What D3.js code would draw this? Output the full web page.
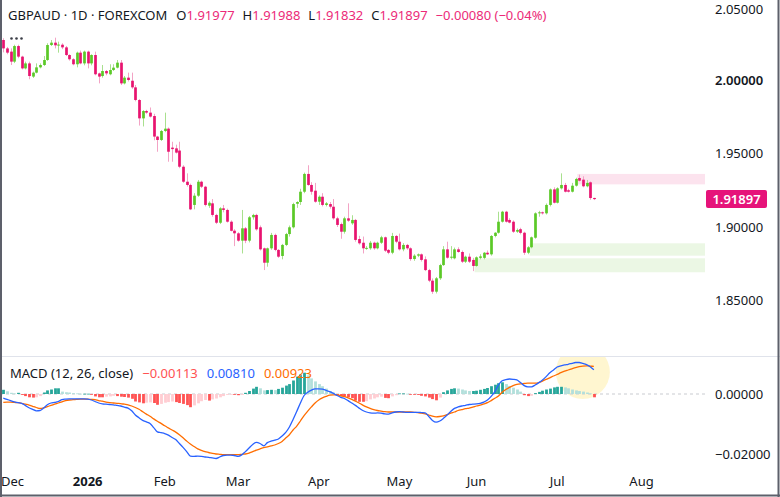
<!DOCTYPE html>
<html>
<head>
<meta charset="utf-8">
<script src="https://cdn.jsdelivr.net/npm/d3@7"></script>
<style>
html, body { margin: 0; padding: 0; background: #fff; }
svg { display: block; font-family: "Noto Sans", "DejaVu Sans", sans-serif; }
</style>
</head>
<body>
<svg id="chart" width="780" height="497"></svg>
<script>
// ---- data ----
const symbolTitle = 'GBPAUD · 1D · FOREXCOM';
const quoteKeys = ['O', 'H', 'L', 'C'];
const quoteValues = ['1.91977', '1.91988', '1.91832', '1.91897'];
const changeText = '\u22120.00080 (\u22120.04%)';
const macdTitle = 'MACD (12, 26, close)';
const macdLegend = ['\u22120.00113', '0.00810', '0.00923'];

const firstSession = '2025-12-01';
const axisEnd = '2026-08-31';
const holidays = ['2026-01-01'];

const open = [
 2.0272,2.0215,2.0193,2.0125,2.0231,2.0159,2.0079,2.0113,2.0023,2.0050,
 2.0086,2.0102,2.0136,2.0238,2.0254,2.0236,2.0240,2.0222,2.0170,2.0141,
 2.0107,2.0186,2.0113,2.0193,2.0113,2.0170,2.0045,2.0027,2.0061,2.0039,
 2.0068,2.0084,2.0118,1.9977,2.0016,1.9995,1.9950,1.9864,1.9739,1.9789,
 1.9778,1.9755,1.9615,1.9592,1.9653,1.9669,1.9540,1.9535,1.9520,1.9410,
 1.9308,1.9286,1.9150,1.9213,1.9308,1.9274,1.9145,1.9161,1.9082,1.9029,
 1.9127,1.9116,1.9036,1.8975,1.8957,1.8907,1.8991,1.8907,1.9066,1.9082,
 1.8998,1.8855,1.8757,1.8855,1.8946,1.8844,1.8803,1.8878,1.8952,1.8998,
 1.9158,1.9170,1.9240,1.9361,1.9286,1.9247,1.9172,1.9206,1.9150,1.9156,
 1.9138,1.9059,1.9020,1.8968,1.9059,1.9025,1.9048,1.8918,1.8893,1.8855,
 1.8855,1.8893,1.8855,1.8893,1.8930,1.8844,1.8825,1.8939,1.8900,1.8848,
 1.8878,1.8855,1.8782,1.8805,1.8814,1.8780,1.8707,1.8635,1.8560,1.8651,
 1.8741,1.8848,1.8791,1.8787,1.8848,1.8830,1.8764,1.8798,1.8776,1.8735,
 1.8790,1.8790,1.8825,1.8814,1.8939,1.8961,1.9036,1.9104,1.9048,1.9036,
 1.8968,1.8985,1.8961,1.8825,1.8862,1.8927,1.9093,1.9100,1.9093,1.9150,
 1.9256,1.9165,1.9263,1.9286,1.9250,1.9240,1.9281,1.9333,1.9322,1.9277,
 1.9304,1.91977];
const high = [
 2.0284,2.0225,2.0215,2.0240,2.0240,2.0165,2.0125,2.0125,2.0057,2.0113,
 2.0113,2.0163,2.0250,2.0272,2.0288,2.0261,2.0250,2.0231,2.0175,2.0148,
 2.0193,2.0200,2.0200,2.0200,2.0175,2.0193,2.0050,2.0102,2.0068,2.0107,
 2.0107,2.0136,2.0136,2.0027,2.0050,2.0050,1.9966,1.9870,1.9795,1.9797,
 1.9813,1.9770,1.9620,1.9660,1.9778,1.9677,1.9580,1.9560,1.9580,1.9420,
 1.9365,1.9295,1.9230,1.9320,1.9315,1.9280,1.9175,1.9190,1.9090,1.9135,
 1.9150,1.9125,1.9045,1.8985,1.8965,1.9116,1.9000,1.9075,1.9090,1.9090,
 1.9010,1.8860,1.8860,1.8960,1.8955,1.8850,1.8885,1.8960,1.9010,1.9165,
 1.9175,1.9260,1.9370,1.9420,1.9305,1.9300,1.9215,1.9230,1.9170,1.9170,
 1.9190,1.9070,1.9030,1.9070,1.9161,1.9080,1.9055,1.8940,1.8935,1.8870,
 1.8905,1.8900,1.8900,1.8940,1.8935,1.8850,1.8960,1.8945,1.8955,1.8890,
 1.8885,1.8862,1.8815,1.8820,1.8820,1.8800,1.8715,1.8650,1.8660,1.8750,
 1.8870,1.8900,1.8870,1.8860,1.8862,1.8840,1.8805,1.8820,1.8790,1.8800,
 1.8815,1.8830,1.8840,1.8945,1.8965,1.9104,1.9110,1.9110,1.9060,1.9045,
 1.8990,1.8995,1.8968,1.8870,1.8935,1.9100,1.9110,1.9105,1.9160,1.9262,
 1.9270,1.9270,1.9365,1.9300,1.9260,1.9300,1.9335,1.9356,1.9345,1.9320,
 1.9310,1.91988];
const low = [
 2.0188,2.0175,2.0102,2.0115,2.0148,2.0072,2.0072,2.0005,2.0014,2.0045,
 2.0079,2.0095,2.0130,2.0231,2.0215,2.0186,2.0210,2.0163,2.0132,2.0100,
 2.0086,2.0107,2.0100,2.0079,2.0100,2.0032,1.9977,2.0016,2.0032,2.0032,
 2.0061,2.0079,1.9966,1.9970,1.9990,1.9940,1.9855,1.9690,1.9684,1.9770,
 1.9745,1.9590,1.9512,1.9585,1.9645,1.9444,1.9444,1.9500,1.9400,1.9300,
 1.9275,1.9115,1.9120,1.9205,1.9265,1.9140,1.9130,1.9070,1.9020,1.9020,
 1.9100,1.9030,1.8970,1.8870,1.8900,1.8820,1.8890,1.8895,1.9050,1.8975,
 1.8840,1.8707,1.8730,1.8845,1.8835,1.8790,1.8780,1.8870,1.8935,1.8990,
 1.9130,1.9150,1.9230,1.9280,1.9220,1.9165,1.9150,1.9140,1.9140,1.9125,
 1.9050,1.9000,1.8920,1.8955,1.9035,1.9015,1.8900,1.8880,1.8820,1.8845,
 1.8845,1.8845,1.8848,1.8885,1.8830,1.8815,1.8815,1.8890,1.8840,1.8835,
 1.8845,1.8770,1.8770,1.8795,1.8765,1.8700,1.8625,1.8545,1.8548,1.8640,
 1.8735,1.8785,1.8780,1.8780,1.8825,1.8755,1.8755,1.8755,1.8700,1.8730,
 1.8780,1.8780,1.8810,1.8805,1.8930,1.8955,1.9030,1.9030,1.9025,1.8960,
 1.8960,1.8950,1.8810,1.8815,1.8855,1.8920,1.9070,1.9085,1.9085,1.9140,
 1.9160,1.9160,1.9255,1.9235,1.9235,1.9235,1.9275,1.9310,1.9270,1.9270,
 1.9185,1.91832];
const close = [
 2.0215,2.0186,2.0125,2.0231,2.0159,2.0079,2.0113,2.0027,2.0050,2.0086,
 2.0102,2.0136,2.0238,2.0254,2.0236,2.0241,2.0222,2.0170,2.0141,2.0107,
 2.0186,2.0113,2.0193,2.0113,2.0170,2.0039,2.0023,2.0061,2.0045,2.0068,
 2.0084,2.0118,1.9977,2.0016,2.0000,1.9950,1.9864,1.9739,1.9789,1.9778,
 1.9751,1.9615,1.9592,1.9653,1.9669,1.9512,1.9530,1.9506,1.9410,1.9308,
 1.9286,1.9120,1.9213,1.9308,1.9274,1.9150,1.9165,1.9082,1.9029,1.9127,
 1.9116,1.9036,1.8974,1.8957,1.8907,1.8991,1.8907,1.9066,1.9082,1.8984,
 1.8848,1.8757,1.8855,1.8946,1.8844,1.8798,1.8878,1.8952,1.8998,1.9156,
 1.9170,1.9240,1.9361,1.9286,1.9240,1.9172,1.9206,1.9150,1.9161,1.9138,
 1.9059,1.9014,1.8968,1.9059,1.9043,1.9048,1.8912,1.8889,1.8855,1.8858,
 1.8893,1.8855,1.8893,1.8930,1.8839,1.8825,1.8939,1.8900,1.8848,1.8878,
 1.8855,1.8782,1.8805,1.8814,1.8776,1.8707,1.8635,1.8560,1.8651,1.8741,
 1.8848,1.8791,1.8798,1.8848,1.8830,1.8764,1.8798,1.8764,1.8735,1.8794,
 1.8800,1.8825,1.8814,1.8939,1.8961,1.9036,1.9104,1.9036,1.9030,1.8968,
 1.8980,1.8960,1.8825,1.8862,1.8930,1.9093,1.9100,1.9093,1.9150,1.9256,
 1.9165,1.9263,1.9286,1.9240,1.9240,1.9281,1.9327,1.9315,1.9277,1.9300,
 1.9197,1.91897];

const macdLine = [
 -0.0014,-0.0018,-0.0022,-0.0026,-0.0029,-0.0031,-0.0038,-0.0046,-0.0051,-0.0056,
 -0.0055,-0.0047,-0.0036,-0.0030,-0.0028,-0.0025,-0.0019,-0.0017,-0.0016,-0.0016,
 -0.0016,-0.0016,-0.0016,-0.0017,-0.0020,-0.0025,-0.0030,-0.0033,-0.0034,-0.0035,
 -0.0036,-0.0038,-0.0040,-0.0044,-0.0047,-0.0056,-0.0070,-0.0079,-0.0088,-0.0093,
 -0.0098,-0.0112,-0.0126,-0.0129,-0.0132,-0.0137,-0.0145,-0.0152,-0.0165,-0.0178,
 -0.0192,-0.0207,-0.0208,-0.0207,-0.0208,-0.0210,-0.0211,-0.0213,-0.0215,-0.0210,
 -0.0205,-0.0204,-0.0204,-0.0205,-0.0208,-0.0203,-0.0192,-0.0180,-0.0168,-0.0161,
 -0.0165,-0.0173,-0.0162,-0.0157,-0.0154,-0.0150,-0.0140,-0.0128,-0.0110,-0.0085,
 -0.0058,-0.0030,-0.0005,0.0006,0.0013,0.0017,0.0017,0.0016,0.0012,0.0008,
 0.0002,-0.0005,-0.0011,-0.0015,-0.0022,-0.0030,-0.0038,-0.0047,-0.0055,-0.0060,
 -0.0063,-0.0064,-0.0063,-0.0064,-0.0066,-0.0067,-0.0063,-0.0060,-0.0059,-0.0060,
 -0.0061,-0.0061,-0.0061,-0.0061,-0.0062,-0.0063,-0.0075,-0.0088,-0.0094,-0.0090,
 -0.0081,-0.0070,-0.0058,-0.0048,-0.0043,-0.0040,-0.0038,-0.0035,-0.0034,-0.0033,
 -0.0031,-0.0027,-0.0020,-0.0008,0.0008,0.0030,0.0044,0.0048,0.0050,0.0049,
 0.0047,0.0038,0.0028,0.0024,0.0024,0.0030,0.0038,0.0047,0.0058,0.0071,
 0.0080,0.0090,0.0094,0.0097,0.0099,0.0102,0.0105,0.0105,0.0102,0.0098,
 0.0091,0.0081];
const signalLine = [
 -0.0028,-0.0027,-0.0027,-0.0028,-0.0029,-0.0031,-0.0034,-0.0037,-0.0041,-0.0045,
 -0.0048,-0.0046,-0.0042,-0.0038,-0.0034,-0.0030,-0.0026,-0.0022,-0.0020,-0.0019,
 -0.0018,-0.0017,-0.0017,-0.0017,-0.0018,-0.0019,-0.0022,-0.0024,-0.0027,-0.0029,
 -0.0030,-0.0031,-0.0032,-0.0034,-0.0036,-0.0040,-0.0045,-0.0051,-0.0059,-0.0067,
 -0.0074,-0.0083,-0.0091,-0.0098,-0.0106,-0.0113,-0.0120,-0.0127,-0.0136,-0.0146,
 -0.0157,-0.0167,-0.0175,-0.0183,-0.0188,-0.0192,-0.0195,-0.0198,-0.0200,-0.0201,
 -0.0202,-0.0202,-0.0202,-0.0202,-0.0202,-0.0201,-0.0200,-0.0197,-0.0192,-0.0187,
 -0.0183,-0.0179,-0.0176,-0.0173,-0.0170,-0.0165,-0.0158,-0.0147,-0.0136,-0.0120,
 -0.0107,-0.0090,-0.0072,-0.0057,-0.0043,-0.0030,-0.0020,-0.0013,-0.0008,-0.0004,
 -0.0003,-0.0003,-0.0006,-0.0009,-0.0013,-0.0018,-0.0024,-0.0030,-0.0037,-0.0043,
 -0.0048,-0.0052,-0.0055,-0.0057,-0.0059,-0.0060,-0.0060,-0.0060,-0.0060,-0.0060,
 -0.0060,-0.0060,-0.0061,-0.0062,-0.0064,-0.0066,-0.0070,-0.0074,-0.0076,-0.0075,
 -0.0073,-0.0069,-0.0064,-0.0060,-0.0055,-0.0052,-0.0049,-0.0047,-0.0044,-0.0040,
 -0.0037,-0.0033,-0.0029,-0.0022,-0.0014,-0.0007,0.0006,0.0015,0.0022,0.0028,
 0.0032,0.0034,0.0035,0.0036,0.0036,0.0036,0.0038,0.0043,0.0049,0.0054,
 0.0060,0.0065,0.0071,0.0076,0.0080,0.0084,0.0088,0.0091,0.0093,0.0094,
 0.0093,0.0092];
const histogram = [
 0.0014,0.0009,0.0004,0.0002,0.0004,-0.0003,-0.0007,-0.0011,-0.0012,-0.0011,
 -0.0007,0.0005,0.0012,0.0015,0.0019,0.0019,0.0008,0.0006,0.0005,0.0003,
 0.0002,0.0001,0.0001,0.0001,-0.0002,-0.0008,-0.0011,-0.0011,-0.0009,-0.0008,
 -0.0006,-0.0007,-0.0009,-0.0010,-0.0012,-0.0016,-0.0025,-0.0028,-0.0031,-0.0029,
 -0.0028,-0.0030,-0.0036,-0.0033,-0.0029,-0.0027,-0.0025,-0.0027,-0.0030,-0.0033,
 -0.0037,-0.0044,-0.0038,-0.0031,-0.0024,-0.0020,-0.0022,-0.0018,-0.0015,-0.0011,
 -0.0007,-0.0003,-0.0002,-0.0002,-0.0004,-0.0003,0.0004,0.0010,0.0018,0.0024,
 0.0019,0.0012,0.0013,0.0014,0.0013,0.0017,0.0021,0.0028,0.0033,0.0045,
 0.0058,0.0065,0.0071,0.0062,0.0052,0.0042,0.0033,0.0026,0.0018,0.0010,
 0.0005,-0.0004,-0.0007,-0.0009,-0.0011,-0.0014,-0.0022,-0.0026,-0.0026,-0.0024,
 -0.0018,-0.0015,-0.0011,-0.0009,-0.0013,-0.0014,-0.0008,-0.0004,0.0002,0.0002,
 0.0001,-0.0001,-0.0002,-0.0003,-0.0006,-0.0008,-0.0012,-0.0017,-0.0021,-0.0012,
 0.0006,0.0012,0.0017,0.0019,0.0018,0.0015,0.0012,0.0010,0.0010,0.0011,
 0.0014,0.0017,0.0020,0.0026,0.0031,0.0036,0.0039,0.0033,0.0027,0.0021,
 0.0015,0.0008,-0.0004,-0.0007,-0.0006,0.0003,0.0007,0.0011,0.0015,0.0018,
 0.0022,0.0024,0.0024,0.0022,0.0019,0.0015,0.0012,0.0010,0.0008,0.0005,
 0.0002,-0.0011];

const priceTicks = [1.85, 1.90, 1.95, 2.00, 2.05];
const macdTicks = [0, -0.02];
// supply/demand boxes: first bar, upper price, lower price
const zoneStart = [157, 144, 129];
const zoneTop = [1.9361, 1.8889, 1.8787];
const zoneBottom = [1.9290, 1.8805, 1.8692];
const zoneKind = ['supply', 'demand', 'demand'];
const highlightBar = 158;

// ---- setup ----
const W = 780, H = 497, plotRight = 705;
const upColor = '#5BC927', downColor = '#E8136F';
const upWick = '#A9E08E', downWick = '#F3A3C5';
const textColor = '#131722';
const quoteColor = '#EC2A78';

const svg = d3.select('#chart');
const parse = d3.utcParse('%Y-%m-%d'), fmtDay = d3.utcFormat('%Y-%m-%d');
const sessions = d3.utcDay.range(parse(firstSession), parse(axisEnd))
  .filter(d => d.getUTCDay() % 6 !== 0 && !holidays.includes(fmtDay(d)));

const x = d3.scaleLinear().domain([0, 100]).range([3.3, 370.1]);
const y = d3.scaleLinear().domain([1.85, 2.0]).range([300.5, 80]);
const ym = d3.scaleLinear().domain([-0.02, 0]).range([454, 394]);
const N = close.length;
const bodyW = 2.7;

svg.append('rect').attr('width', W).attr('height', H).attr('fill', '#fff');

const defs = svg.append('defs');
defs.append('clipPath').attr('id', 'pricePane').append('rect')
  .attr('x', 0).attr('y', 0).attr('width', plotRight).attr('height', 355);
defs.append('clipPath').attr('id', 'macdPane').append('rect')
  .attr('x', 0).attr('y', 357).attr('width', plotRight).attr('height', 112);

// ---- price pane ----
const pp = svg.append('g').attr('clip-path', 'url(#pricePane)');

pp.selectAll('rect.zone').data(zoneStart).join('rect')
  .attr('class', 'zone')
  .attr('x', d => x(d - 0.5))
  .attr('width', d => plotRight - x(d - 0.5))
  .attr('y', (d, i) => y(zoneTop[i]))
  .attr('height', (d, i) => y(zoneBottom[i]) - y(zoneTop[i]))
  .attr('fill', (d, i) => zoneKind[i] === 'supply' ? '#FCE3EE' : '#EBF7E4');

const idx = d3.range(N);
pp.selectAll('line.wick').data(idx).join('line')
  .attr('class', 'wick')
  .attr('x1', i => Math.round(x(i)) + 0.5).attr('x2', i => Math.round(x(i)) + 0.5)
  .attr('y1', i => y(high[i])).attr('y2', i => y(low[i]))
  .attr('stroke', i => close[i] >= open[i] ? upWick : downWick)
  .attr('stroke-width', 1);

pp.selectAll('rect.body').data(idx).join('rect')
  .attr('class', 'body')
  .attr('x', i => Math.round(x(i)) + 0.5 - bodyW / 2)
  .attr('width', bodyW)
  .attr('y', i => y(Math.max(open[i], close[i])))
  .attr('height', i => Math.max(1, Math.abs(y(open[i]) - y(close[i]))))
  .attr('fill', i => close[i] >= open[i] ? upColor : downColor);

// header line, flowed with small gaps like the terminal legend
const headerText = svg.append('text').attr('x', 8).attr('y', 20)
  .attr('font-size', 13).attr('fill', textColor);
headerText.append('tspan').text(symbolTitle);
quoteKeys.forEach((k, i) => {
  headerText.append('tspan').attr('dx', i === 0 ? 9 : 8).text(k);
  headerText.append('tspan').attr('fill', quoteColor).text(quoteValues[i]);
});
headerText.append('tspan').attr('dx', 8).attr('fill', quoteColor).text(changeText);

svg.append('g').attr('fill', '#3a3d46').selectAll('circle').data([0, 1, 2]).join('circle')
  .attr('cx', d => 11.5 + d * 5).attr('cy', 38.5).attr('r', 1.3);

// price axis (top label nudged just inside the frame)
svg.append('g').selectAll('text').data(priceTicks).join('text')
  .attr('x', 715).attr('y', d => Math.max(y(d), 9)).attr('dy', '0.36em')
  .attr('font-size', 13).attr('fill', textColor)
  .attr('font-weight', d => d === 2.0 ? 600 : 400)
  .text(d3.format('.5f'));

const last = close[N - 1];
svg.append('rect').attr('x', 706).attr('y', y(last) - 9).attr('width', 61).attr('height', 18)
  .attr('rx', 2).attr('fill', '#E6137A');
svg.append('text').attr('x', 736.5).attr('y', y(last)).attr('dy', '0.36em')
  .attr('text-anchor', 'middle').attr('font-size', 13).attr('font-weight', 600)
  .attr('fill', '#fff').text(d3.format('.5f')(last));

// ---- MACD pane ----
svg.append('line').attr('x1', 0).attr('x2', W).attr('y1', 356.5).attr('y2', 356.5)
  .attr('stroke', '#E0E3EB');

const mp = svg.append('g').attr('clip-path', 'url(#macdPane)');
mp.append('circle').attr('cx', x(highlightBar)).attr('cy', 372).attr('r', 27)
  .attr('fill', '#FFF5C8').attr('opacity', 0.85);

mp.append('line').attr('x1', 0).attr('x2', plotRight).attr('y1', ym(0)).attr('y2', ym(0))
  .attr('stroke', '#C9CBD0').attr('stroke-dasharray', '3,3');

function histColor(i) {
  const v = histogram[i], p = i > 0 ? histogram[i - 1] : v;
  if (v >= 0) return v >= p ? '#26A69A' : '#B2DFDB';
  return v <= p ? '#FF5252' : '#FFCDD2';
}
mp.selectAll('rect.hist').data(idx).join('rect')
  .attr('class', 'hist')
  .attr('x', i => Math.round(x(i)) + 0.5 - 1.4)
  .attr('width', 2.8)
  .attr('y', i => Math.min(ym(0), ym(histogram[i])))
  .attr('height', i => Math.max(0.8, Math.abs(ym(histogram[i]) - ym(0))))
  .attr('fill', histColor);

const lineGen = arr => d3.line().x((d, i) => x(i)).y(d => ym(d)).curve(d3.curveMonotoneX)(arr);
mp.append('path').attr('d', lineGen(signalLine)).attr('fill', 'none')
  .attr('stroke', '#FF6D00').attr('stroke-width', 1.3);
mp.append('path').attr('d', lineGen(macdLine)).attr('fill', 'none')
  .attr('stroke', '#2962FF').attr('stroke-width', 1.3);

const mh = svg.append('text').attr('x', 10).attr('y', 378).attr('font-size', 13).attr('fill', textColor);
mh.append('tspan').text(macdTitle);
const legendColor = ['#FF5252', '#2962FF', '#FF6D00'];
macdLegend.forEach((v, i) => {
  mh.append('tspan').attr('dx', 9).attr('fill', legendColor[i]).text(v);
});

svg.append('g').selectAll('text').data(macdTicks).join('text')
  .attr('x', 715).attr('y', d => ym(d)).attr('dy', '0.36em')
  .attr('font-size', 13).attr('fill', textColor)
  .text(d => d3.format('.5f')(d).replace('-', '\u2212'));

// ---- time axis ----
const monthStarts = sessions.map((d, i) => i).filter(i => i === 0 ||
  sessions[i].getUTCMonth() !== sessions[i - 1].getUTCMonth());
svg.append('g').selectAll('text').data(monthStarts).join('text')
  .attr('x', i => i === 0 ? 1 : x(i)).attr('y', 486)
  .attr('text-anchor', i => i === 0 ? 'start' : 'middle')
  .attr('font-size', 13).attr('fill', textColor)
  .attr('font-weight', i => sessions[i].getUTCMonth() === 0 ? 700 : 400)
  .text(i => sessions[i].getUTCMonth() === 0 ? d3.utcFormat('%Y')(sessions[i]) : d3.utcFormat('%b')(sessions[i]));

// frame
const frame = svg.append('g').attr('stroke', '#5D606B').attr('stroke-width', 2);
frame.append('line').attr('x1', 1).attr('x2', 1).attr('y1', 0).attr('y2', H);
frame.append('line').attr('x1', 778.5).attr('x2', 778.5).attr('y1', 0).attr('y2', H);
frame.append('line').attr('x1', 0).attr('x2', W).attr('y1', 495.5).attr('y2', 495.5);
</script>
</body>
</html>
